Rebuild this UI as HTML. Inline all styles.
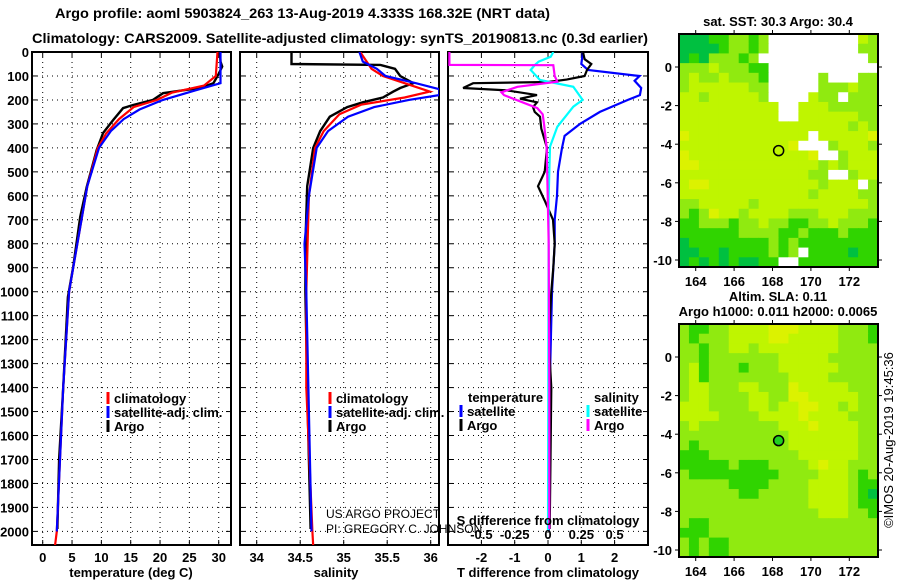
<!DOCTYPE html>
<html><head><meta charset="utf-8"><style>
html,body{margin:0;padding:0;background:#fff}
svg{display:block;font-family:"Liberation Sans",sans-serif}
</style></head><body>
<svg id="c" width="900" height="580" viewBox="0 0 900 580" xmlns="http://www.w3.org/2000/svg"></svg>
<script>
// ---------- data ----------
const depthTicks=[0,100,200,300,400,500,600,700,800,900,1000,1100,1200,1300,1400,1500,1600,1700,1800,1900,2000];
const tempTicks=[0,5,10,15,20,25,30];
const salTicks=[34,34.5,35,35.5,36];
const tdTicks=[-2,-1,0,1,2];
const sdTicks=[-0.5,-0.25,0,0.25,0.5];
const sdTickLabels=["-0.5","-0.25","0","0.25","0.5"];
// temperature profiles [depth, value]
const tempArgo=[[0,30.2],[40,30.3],[61,30.6],[96,29.9],[130,29.1],[150,26.8],[172,20.5],[200,18.8],[221,15.4],[234,13.7],[284,12],[338,10.3],[409,9.2],[563,7.5],[688,6.4],[896,5.2],[1022,4.3],[1400,3.5],[1700,2.8],[1990,2.5]];
const tempClim=[[0,29.8],[100,29.5],[140,27.5],[170,22],[200,19.5],[230,15.5],[280,13],[340,10.8],[400,9.4],[560,7.6],[900,5.2],[1000,4.5],[1400,3.5],[2000,2.4],[2060,2.1]];
const tempSat=[[0,30.3],[130,30.3],[160,26],[200,20.5],[240,16.5],[280,13.8],[330,11.6],[400,9.6],[560,7.6],[900,5.2],[1000,4.5],[1400,3.5],[2000,2.4]];
// salinity
const salArgo=[[0,34.4],[50,34.4],[54,35.42],[70,35.59],[100,35.65],[130,35.8],[150,35.65],[165,35.57],[190,35.45],[210,35.22],[230,35.04],[270,34.84],[330,34.73],[400,34.65],[560,34.58],[800,34.56],[1000,34.56],[1400,34.58],[1700,34.6],[1990,34.62]];
const salClim=[[0,35.19],[70,35.32],[100,35.45],[130,35.7],[165,35.99],[190,35.7],[220,35.2],[260,34.95],[330,34.77],[400,34.67],[600,34.6],[1000,34.57],[1400,34.57],[2000,34.64],[2060,34.65]];
const salSat=[[0,35.18],[40,35.22],[70,35.38],[100,35.48],[130,35.83],[155,36.1],[180,36.1],[200,35.75],[230,35.35],[270,35.05],[330,34.82],[400,34.69],[600,34.6],[800,34.55],[1000,34.57],[2000,34.63]];
// differences
const tdSat=[[0,1.05],[50,1.0],[75,1.2],[100,2.75],[120,2.6],[150,2.8],[180,2.76],[200,2.4],[250,1.56],[300,0.96],[350,0.5],[400,0.42],[500,0.3],[600,0.27],[700,0.2],[800,0.2],[1000,0.12],[1400,0.05],[2000,0.02]];
const tdArgo=[[0,1.05],[30,1.1],[50,1.3],[75,1.17],[100,1.1],[115,0.56],[125,0],[130,-2.25],[150,-2.55],[160,-1.23],[180,-0.33],[195,-0.84],[210,-0.33],[230,-0.45],[250,-0.4],[270,-0.24],[320,-0.2],[400,-0.03],[500,-0.1],[560,-0.3],[620,-0.1],[700,0.15],[800,0.2],[900,0.16],[1000,0.1],[1200,0.02],[1400,0.1],[1990,0.05]];
const sdArgo=[[0,-0.74],[54,-0.74],[55,0.04],[100,0.05],[124,0.07],[145,-0.23],[168,-0.35],[180,-0.33],[234,-0.08],[260,-0.04],[300,-0.03],[400,-0.01],[800,0.005],[1400,0.01],[1990,0.01]];
const sdSat=[[0,0.04],[20,0.02],[40,-0.07],[55,-0.1],[75,-0.13],[117,-0.06],[145,0.19],[200,0.26],[228,0.19],[312,0.07],[395,0.015],[600,0.005],[2000,0.0]];
// maps
const lonTicks=[164,166,168,170,172];
const latTicks=[0,-2,-4,-6,-8,-10];
const floatLon=168.32, floatLat=-4.333;
const sstGrid=[
"gggGGllGlwwwwwwwwwyl","ggggGllGlwwwwwwwwwll","gGglllGlwwwwwwwwwwwl","lllylllGGwwwwwwwwwww",
"lyllylllGwwwwwlwwwll","lyyyyyyllwwwwwlllyll","yylyyyyylwwwwyllwlll","yyyyyyyyyywwyyylllll",
"yyyyyyyyyywwyyyyyyll","yyyyyyyyyyyyyyyyylyl","YyyyyyyyyyyyywyyyyyY","yyyyyyyyyyyYwwwlyyyl",
"YyyyyyyyyyyyyYwwlyyy","YYyyyyyyyyyyyylylyyy","yyyyyyyyyyyyyllwwlyy","yYYyyyyyyyyyyylyyywl",
"yyyyyyyyyyyyylyyyyll","llyyyyylyyyyyyyyyyyl","lGlYyylyyyylllyyylll","GGlllGllyllGGllylllG",
"GGGGGGllllGGlGGGlGGG","gGGGGGGGGlGlGGGGGGGG","ggGGgGGGGlGlwGGGGgGG","gGgGgGggGGwwGGGGGGGG"];
const slaGrid=[
"lGGllyyyyYYYyyyylllG","lGlllyyyyYYyyyyylllG","llGllyylyyyyyyyyllll","llGlllllllyyyyylllll",
"lyGlllGlllyyyyyyllll","lyGllllllllyyyylllll","lyylllyylllYyyyyylll","lyyllllyyllYYyyyyyll",
"yyyllllyylyyYYyylyll","yyyyllllyyyyYyyyylll","lyllllllllyyyYyyyyll","lllllllllllyyyyyyyll",
"lGlllllllllyyyyyyyll","GGGlllllllllyyyyyyll","GGGGGlGGGllllyYyylll","lGGGGGGGGGllllyyylGl",
"lllllGGGGllllyyyylGG","llllllGGlllllyyyylGg","lllllllllllllyyyylGG","llllllllllllllyyyllG",
"lGGlllllllllllllllll","GGGlllllllllllllllll","lGlGGlllllllllllllll","lGlGGlllllllllllllll"];
// ---------- helpers ----------
const svg=document.getElementById('c');
const NS='http://www.w3.org/2000/svg';
function el(tag,attrs,parent){const e=document.createElementNS(NS,tag);for(const k in attrs)e.setAttribute(k,attrs[k]);(parent||svg).appendChild(e);return e;}
function txt(s,x,y,attrs,parent){const t=el('text',Object.assign({x:x,y:y,'font-size':13,'font-weight':'bold',fill:'#000'},attrs||{}),parent);t.textContent=s;return t;}
const Y0=52,Y1=545,DPX=0.2397;
function yD(d){return Y0+d*DPX;}
const P1={x0:32,x1:231},P2={x0:240,x1:439},P3={x0:448,x1:648};
function xT(v){return 42.7+v*5.867;}
function xS(v){return 256.7+(v-34)*87;}
function xTD(v){return 548+v*33.3;}
function xSD(v){return 548+v*133.2;}

// titles
let t1=txt("Argo profile: aoml 5903824_263 13-Aug-2019 4.333S 168.32E (NRT data)",55,18,{'font-size':14,textLength:495,lengthAdjust:'spacingAndGlyphs'});


let t2=txt("Climatology: CARS2009. Satellite-adjusted climatology: synTS_20190813.nc (0.3d earlier)",32,43,{'font-size':14,textLength:616,lengthAdjust:'spacingAndGlyphs'});



// depth labels
depthTicks.forEach(d=>{const t=txt(String(d),29,yD(d)+5,{'text-anchor':'end'});

});

function panel(P,name,xticks,xf){
  const g=el('g',{});
  
  
  const cp=el('clipPath',{id:'cp'+name},g);
  el('rect',{x:P.x0,y:Y0,width:P.x1-P.x0,height:Y1-Y0},cp);
  depthTicks.forEach(d=>{if(d===0)return;el('line',{x1:P.x0,x2:P.x1,y1:yD(d),y2:yD(d),stroke:'#000','stroke-width':1,'stroke-dasharray':'1,4'},g);
    el('line',{x1:P.x0,x2:P.x0+5,y1:yD(d),y2:yD(d),stroke:'#000'},g);el('line',{x1:P.x1-5,x2:P.x1,y1:yD(d),y2:yD(d),stroke:'#000'},g);});
  xticks.forEach(v=>{const x=xf(v);el('line',{x1:x,x2:x,y1:Y0,y2:Y1,stroke:'#000','stroke-dasharray':'1,4'},g);
    el('line',{x1:x,x2:x,y1:Y0,y2:Y0+5,stroke:'#000'},g);el('line',{x1:x,x2:x,y1:Y1-5,y2:Y1,stroke:'#000'},g);});
  el('rect',{x:P.x0,y:Y0,width:P.x1-P.x0,height:Y1-Y0,fill:'none',stroke:'#000','stroke-width':2},g);
  return g;
}
function line(P,name,data,xf,color,w,parent){
  const pts=data.map(p=>xf(p[1]).toFixed(1)+','+yD(p[0]).toFixed(1)).join(' ');
  const l=el('polyline',{points:pts,fill:'none',stroke:color,'stroke-width':w||2.2,'clip-path':'url(#cp'+P+')'},parent);
  
  
  return l;
}
// Panel 1
const g1=panel(P1,'temperature-panel',tempTicks,xT);
line('temperature-panel','temp-argo-line',tempArgo,xT,'#000',2.4,g1);
line('temperature-panel','temp-climatology-line',tempClim,xT,'#f00',2.2,g1);
line('temperature-panel','temp-satellite-line',tempSat,xT,'#00f',2.2,g1);
tempTicks.forEach(v=>{const t=txt(String(v),xT(v),562,{'text-anchor':'middle'});

});
let xl1=txt("temperature (deg C)",131,577,{'text-anchor':'middle'});


// Panel 2
const g2=panel(P2,'salinity-panel',salTicks,xS);
line('salinity-panel','sal-argo-line',salArgo,xS,'#000',2.4,g2);
line('salinity-panel','sal-climatology-line',salClim,xS,'#f00',2.2,g2);
line('salinity-panel','sal-satellite-line',salSat,xS,'#00f',2.2,g2);
salTicks.forEach(v=>{const t=txt(String(v),xS(v),562,{'text-anchor':'middle'});

});
let xl2=txt("salinity",336,577,{'text-anchor':'middle'});


// Panel 3
const g3=panel(P3,'difference-panel',tdTicks,xTD);
line('difference-panel','tdiff-satellite-line',tdSat,xTD,'#00f',2.2,g3);
line('difference-panel','tdiff-argo-line',tdArgo,xTD,'#000',2.2,g3);
line('difference-panel','sdiff-satellite-line',sdSat,xSD,'#0ff',2.2,g3);
line('difference-panel','sdiff-argo-line',sdArgo,xSD,'#f0f',2.2,g3);
tdTicks.forEach(v=>{const t=txt(String(v),xTD(v),562,{'text-anchor':'middle'});

});
sdTicks.forEach((v,i)=>{const t=txt(sdTickLabels[i],xSD(v),539,{'text-anchor':'middle'});

});
let xl3=txt("T difference from climatology",548,577,{'text-anchor':'middle'});


let xl4=txt("S difference from climatology",548,525,{'text-anchor':'middle'});



// legends
function leg(x,y,color,label,name){
  const g=el('g',{});
  
  
  el('line',{x1:x,x2:x,y1:y-11,y2:y+1,stroke:color,'stroke-width':3},g);
  txt(label,x+6,y,{},g);
}
leg(108,403,'#f00','climatology','legend-climatology');
leg(108,417,'#00f','satellite-adj. clim.','legend-satellite-adj');
leg(108,431,'#000','Argo','legend-argo');
leg(330,403,'#f00','climatology','legend-climatology-sal');
leg(330,417,'#00f','satellite-adj. clim.','legend-satellite-adj-sal');
leg(330,431,'#000','Argo','legend-argo-sal');
let lh1=txt("temperature",468,402);
leg(461,416,'#00f','satellite','legend-t-satellite');
leg(461,430,'#000','Argo','legend-t-argo');
let lh2=txt("salinity",594,402);
leg(588,416,'#0ff','satellite','legend-s-satellite');
leg(588,430,'#f0f','Argo','legend-s-argo');
let cr=el('g',{});
txt("US ARGO PROJECT",326,518,{'font-weight':'normal','font-size':12},cr);
txt("PI: GREGORY C. JOHNSON",326,533,{'font-weight':'normal','font-size':12},cr);

// maps
const MX0=679,MX1=878;
function xL(v){return 695.7+(v-164)*19.2;}
const colors={w:'#ffffff',g:'#00c040',G:'#30d400',l:'#90ea10',y:'#bff500',Y:'#dcf200'};
function map(top,grid,name,title){
  const g=el('g',{});
  
  
  const yLat=v=>top+33+(-v)*19.3;
  const rows=grid.length,cols=grid[0].length,h=233;
  const cw=(MX1-MX0)/cols,ch=h/rows;
  grid.forEach((r,i)=>{for(let j=0;j<cols;j++){const c=colors[r[j]]||colors.l;
    el('rect',{x:MX0+j*cw,y:top+i*ch,width:cw+0.5,height:ch+0.5,fill:c},g);}});
  el('rect',{x:MX0,y:top,width:MX1-MX0,height:h,fill:'none',stroke:'#000','stroke-width':2},g);
  lonTicks.forEach(v=>{const x=xL(v);el('line',{x1:x,x2:x,y1:top-4,y2:top,stroke:'#000'},g);el('line',{x1:x,x2:x,y1:top+h,y2:top+h+4,stroke:'#000'},g);
    txt(String(v),x,top+h+19,{'text-anchor':'middle'},g);});
  latTicks.forEach(v=>{const y=yLat(v);el('line',{x1:MX0-4,x2:MX0,y1:y,y2:y,stroke:'#000'},g);el('line',{x1:MX1,x2:MX1+4,y1:y,y2:y,stroke:'#000'},g);
    txt(String(v),672,y+5,{'text-anchor':'end'},g);});
  title.forEach((s,i)=>txt(s,778,top-(title.length-i-1)*15-8,{'text-anchor':'middle'},g));
  return {g:g,yLat:yLat};
}
const m1=map(34,sstGrid,'sst-map',["sat. SST: 30.3 Argo: 30.4"]);
let c1=el('circle',{cx:xL(floatLon),cy:m1.yLat(floatLat),r:5,fill:'none',stroke:'#000','stroke-width':1.5},m1.g);


const m2=map(324,slaGrid,'sla-map',["Altim. SLA: 0.11","Argo h1000: 0.011 h2000: 0.0065"]);
let c2=el('circle',{cx:xL(floatLon),cy:m2.yLat(floatLat),r:5,fill:'#20d020',stroke:'#000','stroke-width':1.5},m2.g);


let st=txt("©IMOS 20-Aug-2019 19:45:36",0,0,{'font-weight':'normal','font-size':13,transform:'translate(893,440) rotate(-90)','text-anchor':'middle'});


</script>
</body></html>
